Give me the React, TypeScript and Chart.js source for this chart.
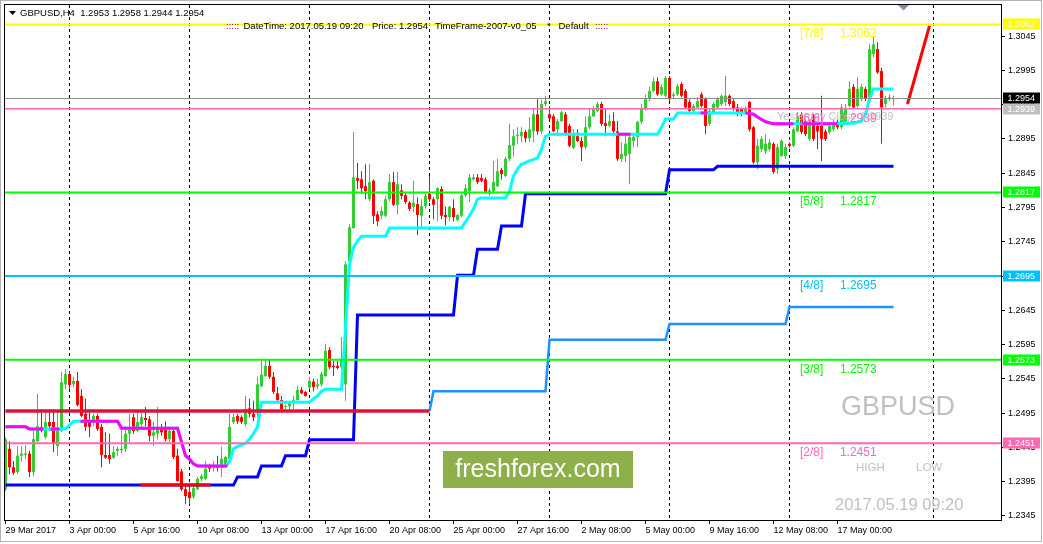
import React, { useEffect, useRef } from 'react';
import { Chart, registerables } from 'chart.js';
Chart.register(...registerables);

// ---------- DATA ----------
const opens = [
1.2384,1.2443,1.2416,1.2409,1.2433,1.2434,1.2436,1.2409,1.2454,1.2475,
1.2460,1.2482,1.2482,1.2447,1.2469,1.2537,1.2552,1.2537,1.2542,1.2520,
1.2494,1.2483,1.2482,1.2491,1.2475,1.2434,1.2434,1.2430,1.2440,1.2441,
1.2443,1.2465,1.2489,1.2469,1.2479,1.2488,1.2486,1.2462,1.2465,1.2472,
1.2472,1.2457,1.2469,1.2433,1.2410,1.2384,1.2380,1.2373,1.2384,1.2399,
1.2399,1.2418,1.2415,1.2418,1.2415,1.2418,1.2428,1.2482,1.2491,1.2489,
1.2479,1.2502,1.2494,1.2498,1.2534,1.2549,1.2564,1.2548,1.2524,1.2514,
1.2504,1.2505,1.2511,1.2514,1.2529,1.2526,1.2532,1.2541,1.2534,1.2537,
1.2549,1.2587,1.2564,1.2564,1.2562,1.2537,1.2717,1.2765,1.2838,1.2836,
1.2826,1.2807,1.2834,1.2785,1.2783,1.2783,1.2807,1.2832,1.2799,1.2820,
1.2813,1.2802,1.2796,1.2800,1.2783,1.2797,1.2815,1.2807,1.2807,1.2822,
1.2784,1.2781,1.2794,1.2777,1.2783,1.2813,1.2819,1.2836,1.2839,1.2838,
1.2836,1.2815,1.2819,1.2826,1.2850,1.2841,1.2866,1.2885,1.2899,1.2899,
1.2905,1.2896,1.2906,1.2931,1.2906,1.2946,1.2931,1.2928,1.2909,1.2921,
1.2931,1.2914,1.2882,1.2899,1.2892,1.2883,1.2912,1.2928,1.2936,1.2946,
1.2918,1.2914,1.2921,1.2906,1.2866,1.2870,1.2873,1.2892,1.2898,1.2920,
1.2939,1.2953,1.2965,1.2979,1.2960,1.2958,1.2984,1.2958,1.2960,1.2975,
1.2965,1.2949,1.2936,1.2941,1.2960,1.2953,1.2917,1.2934,1.2941,1.2946,
1.2949,1.2958,1.2950,1.2941,1.2939,1.2934,1.2949,1.2912,1.2861,1.2880,
1.2877,1.2880,1.2888,1.2851,1.2870,1.2870,1.2888,1.2885,1.2906,1.2931,
1.2921,1.2895,1.2928,1.2914,1.2914,1.2906,1.2905,1.2909,1.2920,1.2912,
1.2921,1.2943,1.2971,1.2943,1.2953,1.2968,1.2956,1.3019,1.3026,1.2994,
1.2946,1.2953,1.2953];
const highs = [
1.2460,1.2454,1.2425,1.2447,1.2447,1.2448,1.2440,1.2472,1.2523,1.2501,
1.2497,1.2501,1.2501,1.2497,1.2555,1.2559,1.2555,1.2548,1.2555,1.2530,
1.2516,1.2501,1.2494,1.2494,1.2479,1.2467,1.2465,1.2447,1.2446,1.2472,
1.2476,1.2494,1.2494,1.2497,1.2497,1.2504,1.2491,1.2482,1.2504,1.2479,
1.2483,1.2475,1.2472,1.2443,1.2414,1.2391,1.2387,1.2388,1.2402,1.2406,
1.2425,1.2421,1.2425,1.2433,1.2446,1.2433,1.2494,1.2494,1.2494,1.2492,
1.2520,1.2516,1.2513,1.2548,1.2574,1.2574,1.2574,1.2555,1.2533,1.2520,
1.2508,1.2513,1.2520,1.2535,1.2533,1.2527,1.2548,1.2545,1.2545,1.2555,
1.2596,1.2591,1.2571,1.2571,1.2606,1.2717,1.2771,1.2905,1.2860,1.2848,
1.2858,1.2858,1.2836,1.2790,1.2796,1.2812,1.2844,1.2847,1.2847,1.2829,
1.2818,1.2804,1.2834,1.2810,1.2807,1.2815,1.2841,1.2810,1.2825,1.2826,
1.2796,1.2797,1.2807,1.2785,1.2815,1.2829,1.2844,1.2844,1.2844,1.2844,
1.2839,1.2823,1.2863,1.2866,1.2853,1.2869,1.2917,1.2909,1.2912,1.2912,
1.2908,1.2927,1.2939,1.2953,1.2952,1.2958,1.2943,1.2931,1.2924,1.2936,
1.2934,1.2917,1.2909,1.2909,1.2898,1.2928,1.2939,1.2943,1.2949,1.2949,
1.2939,1.2931,1.2934,1.2921,1.2890,1.2899,1.2899,1.2902,1.2921,1.2946,
1.2960,1.2971,1.2985,1.2985,1.2975,1.2987,1.2987,1.2963,1.2975,1.2978,
1.2968,1.2953,1.2946,1.2956,1.2963,1.2956,1.2939,1.2949,1.2956,1.2960,
1.2987,1.2960,1.2953,1.2946,1.2941,1.2943,1.2950,1.2914,1.2895,1.2899,
1.2902,1.2895,1.2890,1.2888,1.2895,1.2888,1.2890,1.2912,1.2934,1.2934,
1.2924,1.2924,1.2931,1.2917,1.2958,1.2909,1.2917,1.2924,1.2924,1.2946,
1.2946,1.2979,1.2975,1.2985,1.2975,1.2971,1.3033,1.3045,1.3036,1.2999,
1.2958,1.2960,1.2958];
const lows = [
1.2381,1.2406,1.2405,1.2406,1.2424,1.2428,1.2402,1.2403,1.2453,1.2467,
1.2457,1.2469,1.2438,1.2433,1.2467,1.2530,1.2530,1.2533,1.2505,1.2489,
1.2469,1.2460,1.2476,1.2469,1.2416,1.2428,1.2421,1.2428,1.2433,1.2436,
1.2438,1.2453,1.2465,1.2467,1.2472,1.2476,1.2454,1.2447,1.2457,1.2462,
1.2454,1.2453,1.2428,1.2395,1.2381,1.2362,1.2362,1.2370,1.2383,1.2396,
1.2398,1.2409,1.2410,1.2410,1.2402,1.2416,1.2427,1.2479,1.2479,1.2479,
1.2476,1.2489,1.2483,1.2489,1.2533,1.2548,1.2545,1.2523,1.2513,1.2498,
1.2501,1.2501,1.2501,1.2513,1.2523,1.2519,1.2530,1.2527,1.2530,1.2534,
1.2548,1.2559,1.2549,1.2559,1.2559,1.2513,1.2715,1.2764,1.2822,1.2815,
1.2807,1.2804,1.2771,1.2768,1.2778,1.2781,1.2804,1.2797,1.2785,1.2807,
1.2800,1.2790,1.2788,1.2755,1.2767,1.2793,1.2803,1.2778,1.2775,1.2778,
1.2769,1.2775,1.2775,1.2775,1.2781,1.2810,1.2803,1.2834,1.2829,1.2832,
1.2815,1.2812,1.2815,1.2825,1.2836,1.2839,1.2863,1.2869,1.2888,1.2890,
1.2890,1.2890,1.2890,1.2901,1.2902,1.2943,1.2924,1.2905,1.2899,1.2920,
1.2899,1.2883,1.2880,1.2890,1.2863,1.2880,1.2909,1.2927,1.2934,1.2914,
1.2899,1.2912,1.2902,1.2863,1.2861,1.2861,1.2829,1.2883,1.2883,1.2917,
1.2936,1.2950,1.2963,1.2958,1.2958,1.2956,1.2950,1.2953,1.2958,1.2956,
1.2939,1.2933,1.2934,1.2940,1.2941,1.2902,1.2914,1.2931,1.2939,1.2943,
1.2943,1.2943,1.2936,1.2928,1.2928,1.2931,1.2906,1.2858,1.2851,1.2876,
1.2873,1.2877,1.2844,1.2844,1.2869,1.2866,1.2882,1.2883,1.2905,1.2902,
1.2899,1.2892,1.2892,1.2880,1.2863,1.2892,1.2902,1.2906,1.2909,1.2909,
1.2917,1.2941,1.2939,1.2941,1.2950,1.2950,1.2953,1.3014,1.2990,1.2888,
1.2941,1.2950,1.2944];
const closes = [
1.2457,1.2416,1.2408,1.2433,1.2436,1.2436,1.2409,1.2457,1.2476,1.2469,
1.2482,1.2476,1.2450,1.2469,1.2540,1.2552,1.2536,1.2542,1.2507,1.2491,
1.2475,1.2475,1.2491,1.2472,1.2434,1.2430,1.2428,1.2438,1.2443,1.2443,
1.2465,1.2472,1.2469,1.2482,1.2489,1.2485,1.2462,1.2467,1.2472,1.2467,
1.2457,1.2469,1.2431,1.2396,1.2384,1.2374,1.2371,1.2386,1.2399,1.2403,
1.2414,1.2414,1.2418,1.2415,1.2428,1.2431,1.2475,1.2489,1.2483,1.2482,
1.2501,1.2494,1.2489,1.2537,1.2551,1.2564,1.2548,1.2526,1.2514,1.2501,
1.2505,1.2510,1.2514,1.2529,1.2524,1.2520,1.2542,1.2533,1.2537,1.2552,
1.2586,1.2562,1.2562,1.2561,1.2574,1.2712,1.2766,1.2839,1.2834,1.2823,
1.2819,1.2832,1.2783,1.2775,1.2790,1.2807,1.2832,1.2799,1.2829,1.2812,
1.2803,1.2793,1.2802,1.2784,1.2797,1.2812,1.2807,1.2799,1.2823,1.2783,
1.2781,1.2796,1.2781,1.2784,1.2813,1.2823,1.2839,1.2839,1.2832,1.2834,
1.2818,1.2820,1.2832,1.2848,1.2844,1.2866,1.2886,1.2899,1.2901,1.2905,
1.2896,1.2909,1.2931,1.2906,1.2946,1.2950,1.2925,1.2906,1.2921,1.2934,
1.2902,1.2885,1.2901,1.2892,1.2883,1.2912,1.2928,1.2939,1.2946,1.2917,
1.2914,1.2921,1.2906,1.2866,1.2873,1.2888,1.2898,1.2898,1.2920,1.2939,
1.2953,1.2965,1.2979,1.2960,1.2971,1.2984,1.2953,1.2960,1.2972,1.2958,
1.2941,1.2936,1.2943,1.2950,1.2943,1.2914,1.2936,1.2946,1.2953,1.2958,
1.2958,1.2946,1.2939,1.2934,1.2934,1.2939,1.2909,1.2861,1.2885,1.2895,
1.2888,1.2890,1.2847,1.2883,1.2892,1.2883,1.2885,1.2909,1.2928,1.2905,
1.2902,1.2920,1.2895,1.2906,1.2895,1.2895,1.2914,1.2920,1.2912,1.2941,
1.2939,1.2968,1.2941,1.2968,1.2971,1.2953,1.3026,1.3033,1.2992,1.2941,
1.2953,1.2956,1.2954];

// trailing (cyan / magenta) line, sparse bar positions and values
const trailBars = [0,5,6,15,17,28,29,43,44,45,46,47,48,55,56,57,58,60,61,62,63,64,76,77,78,79,80,84,85,86,87,88,89,95,96,114,115,116,117,118,119,125,126,127,128,129,131,133,134,135,136,163,164,165,167,168,185,187,188,190,192,208,212,214,215,216,217,222];
const trailVals = [1.2475,1.2475,1.2472,1.2472,1.2483,1.2483,1.2473,1.2473,1.2453,1.2433,1.2428,1.2421,1.2418,1.2418,1.2424,1.2443,1.2446,1.2451,1.2457,1.2465,1.2475,1.2511,1.2511,1.2516,1.2520,1.2527,1.2530,1.2530,1.2618,1.2712,1.2737,1.2746,1.2753,1.2753,1.2765,1.2765,1.2774,1.2783,1.2793,1.2807,1.2809,1.2809,1.2818,1.2841,1.2851,1.2858,1.2863,1.2867,1.2880,1.2899,1.2902,1.2902,1.2912,1.2924,1.2924,1.2933,1.2933,1.2931,1.2927,1.2920,1.2917,1.2917,1.2918,1.2921,1.2931,1.2953,1.2968,1.2968];
// magenta parts of that line (null = gap)
const magBars = [0,5,6,9.5,null,11.25,13.5,null,18.75,28,29,43,44,45,46,47,48,55.5,null,153,156.25,null,173.75,175.5,null,185,187,188,190,192,197,null,198.75,208];
const magVals = [1.2475,1.2475,1.2472,1.2472,null,1.2472,1.2472,null,1.2483,1.2483,1.2473,1.2473,1.2453,1.2433,1.2428,1.2421,1.2418,1.2418,null,1.2902,1.2902,null,1.2933,1.2933,null,1.2933,1.2931,1.2927,1.2920,1.2917,1.2917,null,1.2917,1.2917];

const blueBars = [0,57,58,63,64,69,70,75,76,87,88,112,113,117,118,123,124,129,130,165,166,177,178,222];
const blueVals = [1.2390,1.2390,1.2402,1.2402,1.2418,1.2418,1.2433,1.2433,1.2456,1.2456,1.2638,1.2638,1.2696,1.2696,1.2734,1.2734,1.2768,1.2768,1.2815,1.2815,1.2850,1.2850,1.2855,1.2855];
const redOnBlueBars = [33.75,51.25];
const redOnBlueVals = [1.2390,1.2390];
const dodgerBars = [106,107,135,136,165,166,195,196,222];
const dodgerVals = [1.2498,1.2527,1.2527,1.2602,1.2602,1.2625,1.2625,1.2650,1.2650];
const crimsonBars = [0,106];
const crimsonVals = [1.2498,1.2498];
const projBars = [225.5,231];
const projVals = [1.2946,1.3060];

const levelValues = [1.3062,1.2954,1.2939,1.2817,1.2695,1.2573,1.2451];
const mmLabels = ['[7/8]','[6/8]','[5/8]','[4/8]','[3/8]','[2/8]'];
const mmValues = [1.3062,1.2939,1.2817,1.2695,1.2573,1.2451];

const xTickBars = [0,16,32,48,64,80,96,112,128,144,160,176,192,208];
const xTickLabels = ['29 Mar 2017','3 Apr 00:00','5 Apr 16:00','10 Apr 08:00','13 Apr 00:00','17 Apr 16:00','20 Apr 08:00','25 Apr 00:00','27 Apr 16:00','2 May 08:00','5 May 00:00','9 May 16:00','12 May 08:00','17 May 00:00'];
const gridBars = [16,46,76,106,136,166,196,232];
const yTicks = [1.2345,1.2395,1.2445,1.2495,1.2545,1.2595,1.2645,1.2695,1.2745,1.2795,1.2845,1.2895,1.2945,1.2995,1.3045];

const headerMain = 'GBPUSD,H4  1.2953 1.2958 1.2944 1.2954';
const headerDate = 'DateTime: 2017.05.19 09:20';
const headerPrice = 'Price: 1.2954';
const headerTf = 'TimeFrame-2007-v0_05';
const headerDefault = 'Default';
const yesterdayText = 'Yesterday Close 1.2939';
const symbolText = 'GBPUSD';
const dateStamp = '2017.05.19 09:20';
const brandText = 'freshforex.com';

// ---------- STYLES ----------
const GREEN = '#32cd32';
const RED = '#ff0000';
const levelStyles = [
  { c: '#ffff00', w: 2 },
  { c: '#8c8c8c', w: 1 },
  { c: '#ff69b4', w: 1.5 },
  { c: '#00ff00', w: 2 },
  { c: '#00bfff', w: 2 },
  { c: '#00ff00', w: 2 },
  { c: '#ff69b4', w: 2 },
];
const mmColors = ['#ffff00', '#ff69b4', '#00ff00', '#00bfff', '#00ff00', '#ff69b4'];
const boxColors = ['#ffff00', '#000000', '#c0c0c0', '#00ff00', '#00bfff', '#00ff00', '#ff69b4'];

const pts = (bars: (number | null)[], vals: (number | null)[]) =>
  bars.map((b, k) => ({ x: b === null ? (bars[k - 1] as number) + 0.01 : b, y: vals[k] }));

export default function App() {
  const ref = useRef<HTMLCanvasElement>(null);
  useEffect(() => {
    const canvas = ref.current;
    if (!canvas) return;
    const idx = opens.map((_, i) => i);
    const colors = idx.map(i => (closes[i] >= opens[i] ? GREEN : RED));

    const line = (data: any[], color: string, width: number, order: number) => ({
      type: 'line' as const,
      data,
      borderColor: color,
      borderWidth: width,
      pointRadius: 0,
      fill: false,
      tension: 0,
      spanGaps: false,
      order,
    });

    const levelSets = levelValues.map((v, k) =>
      line([{ x: -1, y: v }, { x: 260, y: v }], levelStyles[k].c, levelStyles[k].w, 1 + k * 0.01));

    const overlay = {
      id: 'overlay',
      beforeDatasetsDraw(chart: any) {
        const { ctx, chartArea: a, scales } = chart;
        const x = scales.x;
        ctx.save();
        ctx.strokeStyle = '#000';
        ctx.lineWidth = 1;
        ctx.setLineDash([3, 3]);
        gridBars.forEach(b => {
          const px = Math.round(x.getPixelForValue(b) - 0.5) + 0.5;
          ctx.beginPath();
          ctx.moveTo(px, a.top);
          ctx.lineTo(px, a.bottom);
          ctx.stroke();
        });
        ctx.restore();
      },
      afterDraw(chart: any) {
        const { ctx, chartArea: a, scales } = chart;
        const x = scales.x, y = scales.y;
        ctx.save();
        // outer window frame
        ctx.strokeStyle = '#b4b4b4';
        ctx.lineWidth = 1;
        ctx.strokeRect(0.5, 0.5, 1041, 541);
        // chart frame
        ctx.strokeStyle = '#000';
        ctx.strokeRect(a.left - 0.5, a.top - 0.5, a.right - a.left + 1, a.bottom - a.top + 1);

        // header
        ctx.fillStyle = '#000';
        ctx.beginPath();
        ctx.moveTo(9, 11); ctx.lineTo(16, 11); ctx.lineTo(12.5, 15); ctx.closePath();
        ctx.fill();
        ctx.font = '9.5px "Liberation Sans"';
        ctx.textBaseline = 'alphabetic';
        ctx.textAlign = 'left';
        ctx.fillText(headerMain, 20, 16);
        ctx.fillStyle = '#800080';
        ctx.fillText(':::::', 226, 28.5);
        ctx.fillText(':::::', 595, 28.5);
        ctx.fillStyle = '#000';
        ctx.fillText(headerDate, 243.5, 28.5);
        ctx.fillText(headerPrice, 372, 28.5);
        ctx.fillText(headerTf, 435, 28.5);
        ctx.fillText('*', 547, 28.5);
        ctx.fillText(headerDefault, 558.5, 28.5);

        // chart shift marker
        ctx.fillStyle = '#8090a0';
        ctx.beginPath();
        ctx.moveTo(898, 5); ctx.lineTo(909, 5); ctx.lineTo(903.5, 10.5); ctx.closePath();
        ctx.fill();

        // yesterday close text
        ctx.font = '11px "Liberation Sans"';
        ctx.fillStyle = '#c0c0c0';
        ctx.fillText(yesterdayText, 777, 119.5);

        // murrey labels
        ctx.font = '12px "Liberation Sans"';
        mmValues.forEach((v, k) => {
          const py = y.getPixelForValue(v) + 13;
          ctx.fillStyle = mmColors[k];
          ctx.fillText(mmLabels[k], x.getPixelForValue(198.6), py);
          ctx.fillText(v.toFixed(4), x.getPixelForValue(208.6), py);
        });

        // watermark texts
        ctx.fillStyle = '#c0c0c0';
        ctx.font = '27px "Liberation Sans"';
        ctx.fillText(symbolText, 841, 415);
        ctx.font = '11.5px "Liberation Sans"';
        ctx.fillText('HIGH', 856, 471);
        ctx.fillText('LOW', 916, 471);
        ctx.font = '16.5px "Liberation Sans"';
        ctx.fillText(dateStamp, 835, 510);

        // brand box
        ctx.fillStyle = '#8db04b';
        ctx.fillRect(443, 451, 190, 37);
        ctx.fillStyle = '#ffffff';
        ctx.font = '25px "Liberation Sans"';
        ctx.textAlign = 'center';
        ctx.textBaseline = 'middle';
        ctx.fillText(brandText, 538, 470);

        // right axis price boxes
        ctx.textAlign = 'left';
        ctx.font = '9px "Liberation Sans"';
        const boxOrder = [0, 2, 1, 3, 4, 5, 6];
        boxOrder.forEach(k => {
          const v = levelValues[k];
          const py = y.getPixelForValue(v);
          ctx.fillStyle = boxColors[k];
          ctx.fillRect(1003, Math.round(py) - 5.5, 37, 11);
          ctx.fillStyle = '#ffffff';
          ctx.fillText(v.toFixed(4), 1007.5, py + 0.5);
        });
        ctx.restore();
      },
    };

    const chart = new Chart(canvas, {
      type: 'bar',
      data: {
        datasets: [
          ...levelSets,
          line(pts(projBars, projVals), '#ff0000', 3, 8),
          line(pts(redOnBlueBars, redOnBlueVals), '#ff0000', 3, 10),
          line(pts(blueBars, blueVals), '#0000ff', 3, 11),
          line(pts(magBars, magVals), '#ff00ff', 3, 12),
          line(pts(trailBars, trailVals), '#00ffff', 3, 13),
          line(pts(dodgerBars, dodgerVals), '#1e90ff', 2.5, 14),
          line(pts(crimsonBars, crimsonVals), '#dc143c', 3.5, 9),
          {
            type: 'bar' as const,
            data: idx.map(i => ({ x: i, y: [opens[i], closes[i]] })) as any,
            backgroundColor: colors,
            borderWidth: 0,
            barThickness: 3,
            minBarLength: 1,
            grouped: false,
            inflateAmount: 0,
            order: 50,
          },
          {
            type: 'bar' as const,
            data: idx.map(i => ({ x: i, y: [lows[i], highs[i]] })) as any,
            backgroundColor: colors,
            borderWidth: 0,
            barThickness: 1,
            grouped: false,
            inflateAmount: 0,
            order: 51,
          },
        ] as any,
      },
      options: {
        responsive: false,
        animation: false,
        devicePixelRatio: 1,
        events: [],
        layout: { padding: { left: 5, top: 5, right: 0, bottom: 0 } },
        plugins: { legend: { display: false }, tooltip: { enabled: false } },
        scales: {
          x: {
            type: 'linear',
            min: -0.125,
            max: 248.875,
            offset: false,
            position: 'bottom',
            grid: { display: true, offset: false, drawOnChartArea: false, drawTicks: true, tickLength: 4, color: '#000', lineWidth: 1 },
            border: { display: false },
            ticks: {
              autoSkip: false, maxRotation: 0, minRotation: 0, align: 'start', padding: 1, color: '#000',
              font: { family: 'Liberation Sans', size: 9 },
              callback: (_v: any, i: number) => xTickLabels[i] ?? '',
            },
            afterBuildTicks: (s: any) => { s.ticks = xTickBars.map(v => ({ value: v })); },
            afterFit: (s: any) => { s.height = 24; s.paddingLeft = 0; s.paddingRight = 0; },
          },
          y: {
            type: 'linear',
            position: 'right',
            min: 1.23391,
            max: 1.30904,
            grid: { display: true, drawOnChartArea: false, drawTicks: true, tickLength: 4, color: '#000', lineWidth: 1 },
            border: { display: false },
            ticks: {
              padding: 3, color: '#000',
              font: { family: 'Liberation Sans', size: 9 },
              callback: (v: any) => Number(v).toFixed(4),
            },
            afterBuildTicks: (s: any) => { s.ticks = yTicks.map(v => ({ value: v })); },
            afterFit: (s: any) => { s.width = 42; s.paddingTop = 0; s.paddingBottom = 0; },
          },
        },
      } as any,
      plugins: [overlay],
    });
    return () => chart.destroy();
  }, []);

  return (
    <div style={{ position: 'fixed', left: 0, top: 0, width: 1043, height: 544, background: '#ffffff' }}>
      <canvas ref={ref} width={1043} height={544} style={{ display: 'block', width: 1043, height: 544 }} />
    </div>
  );
}
